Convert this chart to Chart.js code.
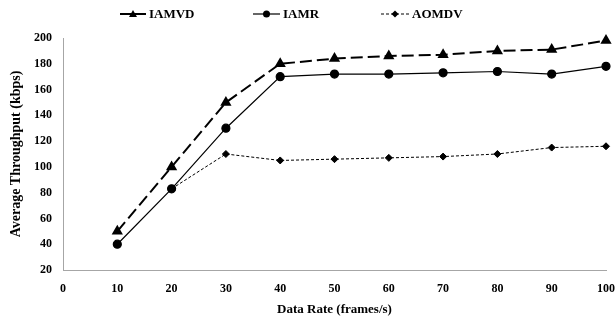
<!DOCTYPE html>
<html>
<head>
<meta charset="utf-8">
<script src="https://cdn.jsdelivr.net/npm/chart.js@4"></script>
<style>
  body { margin: 0; background: #fff; }
  #wrap { width: 616px; height: 320px; }
</style>
</head>
<body>
<div id="wrap"><canvas id="myChart" width="616" height="320"></canvas></div>
<script>
// data
var rates = [10, 20, 30, 40, 50, 60, 70, 80, 90, 100];
var iamvd = [50, 100, 150, 180, 184, 186, 187, 190, 191, 198];
var iamr = [40, 83, 130, 170, 172, 172, 173, 174, 172, 178];
var aomdv = [null, 83, 110, 105, 106, 107, 108, 110, 115, 116];

function pts(vals) {
    return rates.map(function(r, i) { return { x: r, y: vals[i] }; });
}

var font = 'Liberation Serif, Times New Roman, serif';

// legend drawn by hand: line with marker in the middle
var lineLegend = {
    id: 'lineLegend',
    afterDraw: function(chart) {
        var ctx = chart.ctx;
        var items = [
            { ds: 0, x: 120, w: 26 },
            { ds: 1, x: 253, w: 27 },
            { ds: 2, x: 381, w: 28 }
        ];
        var y = 14;
        ctx.save();
        items.forEach(function(it) {
            var d = chart.data.datasets[it.ds];
            ctx.strokeStyle = '#000';
            ctx.lineWidth = d.borderWidth;
            ctx.setLineDash(d.legendDash || []);
            ctx.beginPath();
            ctx.moveTo(it.x, y);
            ctx.lineTo(it.x + it.w, y);
            ctx.stroke();
            ctx.setLineDash([]);
            var cx = it.x + it.w / 2;
            ctx.fillStyle = '#000';
            ctx.beginPath();
            if (d.pointStyle === 'triangle') {
                ctx.moveTo(cx, y - 4); ctx.lineTo(cx + 4, y + 3); ctx.lineTo(cx - 4, y + 3);
            } else if (d.pointStyle === 'circle') {
                ctx.arc(cx, y, 3.5, 0, Math.PI * 2);
            } else {
                ctx.moveTo(cx, y - 3.5); ctx.lineTo(cx + 3.5, y); ctx.lineTo(cx, y + 3.5); ctx.lineTo(cx - 3.5, y);
            }
            ctx.closePath();
            ctx.fill();
            ctx.font = 'bold 13px ' + font;
            ctx.textBaseline = 'middle';
            ctx.fillText(d.label, it.x + it.w + 3, y + 1);
        });
        ctx.restore();
    }
};

var ctx = document.getElementById('myChart').getContext('2d');
var chart = new Chart(ctx, {
    type: 'line',
    data: {
        datasets: [{
            label: 'IAMVD',
            data: pts(iamvd),
            borderColor: '#000',
            backgroundColor: '#000',
            borderWidth: 2,
            borderDash: [12, 5],
            legendDash: [],
            pointStyle: 'triangle',
            pointRadius: 4.5,
            clip: false,
            fill: false
        }, {
            label: 'IAMR',
            data: pts(iamr),
            borderColor: '#000',
            backgroundColor: '#000',
            borderWidth: 1.2,
            pointStyle: 'circle',
            pointRadius: 4,
            clip: false,
            fill: false
        }, {
            label: 'AOMDV',
            data: pts(aomdv),
            borderColor: '#000',
            backgroundColor: '#000',
            borderWidth: 1,
            borderDash: [3, 2],
            legendDash: [3, 2],
            pointStyle: 'rectRot',
            pointRadius: 3.5,
            clip: false,
            fill: false
        }]
    },
    options: {
        responsive: false,
        animation: false,
        layout: { padding: { top: 38, right: 10, left: 5, bottom: 3 } },
        plugins: {
            legend: { display: false },
            tooltip: { enabled: false }
        },
        scales: {
            x: {
                type: 'linear',
                min: 0,
                max: 100,
                border: { color: '#a6a6a6' },
                grid: { display: false, drawTicks: false },
                ticks: { stepSize: 10, color: '#000', padding: 12, font: { family: font, size: 12, weight: 'bold' } },
                title: { display: true, text: 'Data Rate (frames/s)', color: '#000', padding: { top: 4, bottom: 0 }, font: { family: font, size: 13, weight: 'bold' } },
                afterFit: function(s) { s.height = 47; s.paddingRight = 0; s.paddingLeft = 0; }
            },
            y: {
                min: 20,
                max: 200,
                border: { color: '#a6a6a6' },
                grid: { display: false, drawTicks: false },
                ticks: { stepSize: 20, color: '#000', padding: 11, font: { family: font, size: 12, weight: 'bold' } },
                title: { display: true, text: 'Average Throughput (kbps)', color: '#000', padding: 3, font: { family: font, size: 14, weight: 'bold' } },
                afterFit: function(s) { s.width = 58; }
            }
        }
    },
    plugins: [lineLegend]
});
</script>
</body>
</html>
